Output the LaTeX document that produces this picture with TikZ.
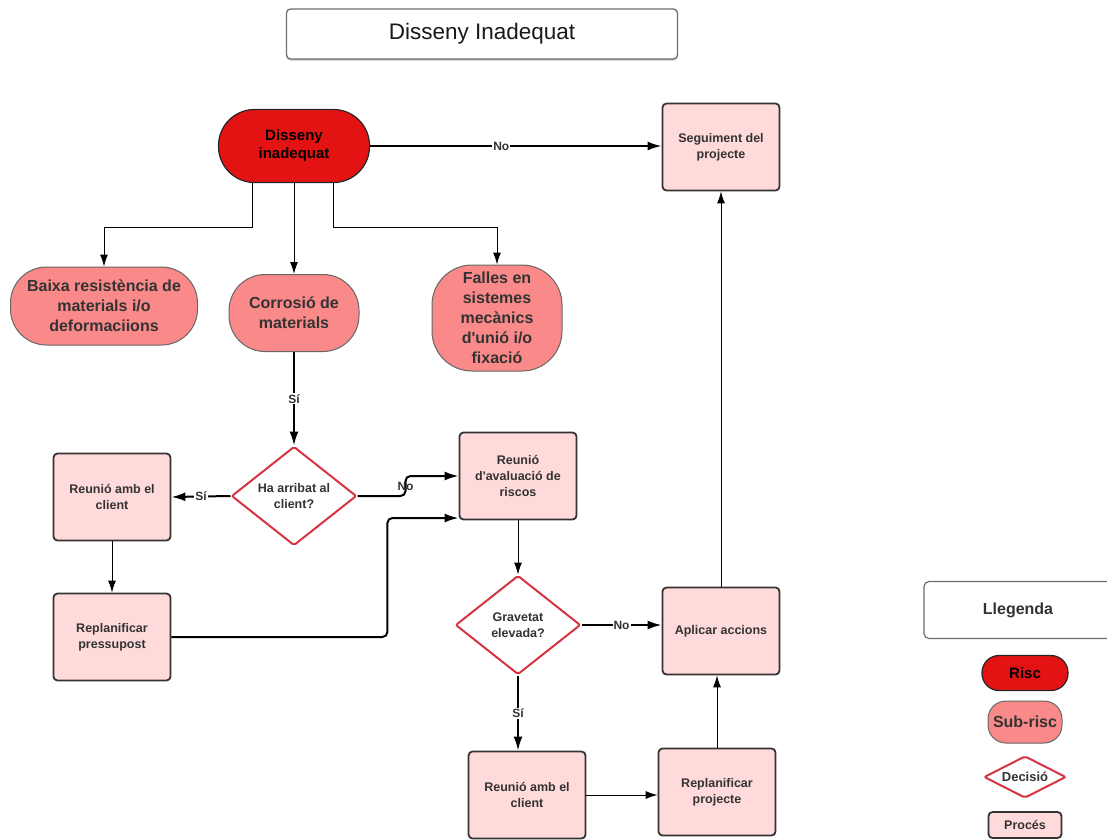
\documentclass[tikz,border=0pt]{standalone}
\usepackage{fontspec}
\setmainfont{Liberation Sans}
\usetikzlibrary{shapes.geometric,arrows.meta,shadows}
\definecolor{riscred}{RGB}{228,19,19}
\definecolor{subred}{RGB}{250,137,137}
\definecolor{procpink}{RGB}{255,218,218}
\definecolor{decred}{RGB}{214,52,64}
\definecolor{textgray}{RGB}{51,51,51}
\definecolor{edgegray}{RGB}{51,51,51}
\definecolor{boxgray}{RGB}{110,110,110}
\tikzset{
  mtitle/.style  = {draw=boxgray, line width=1.3pt, rounded corners=4pt, fill=white,
                    drop shadow={shadow xshift=0pt, shadow yshift=-1.5pt, fill=black!45},
                    minimum width=391pt, minimum height=50pt,
                    font=\fontsize{22.5}{25}\selectfont, text=black!90},
  mrisc/.style   = {draw=black!85, line width=1.2pt, rounded corners=36pt, fill=riscred,
                    align=center, text=black, font=\fontsize{15}{18}\selectfont\bfseries,
                    minimum width=151pt, minimum height=73pt, inner sep=2pt},
  msub/.style    = {mrisc, draw=black!60, line width=1pt, fill=subred, text=textgray,
                    font=\fontsize{16}{20}\selectfont\bfseries,
                    minimum width=130pt, minimum height=77pt},
  mproc/.style   = {draw=edgegray, line width=1.8pt, rounded corners=4pt, fill=procpink,
                    align=center, text=textgray, font=\fontsize{12.5}{16}\selectfont\bfseries,
                    minimum width=117pt, minimum height=87pt, inner sep=2pt},
  % Decisions: fixed outer size, text kept inside the diamond.
  mdec/.style    = {diamond, draw=decred, line width=2pt, rounded corners=2pt, fill=white,
                    align=center, text=textgray, font=\fontsize{12.5}{16}\selectfont\bfseries,
                    minimum width=125pt, minimum height=99pt, inner sep=0pt, aspect=1.26},
  mlegbox/.style = {draw=boxgray, line width=1.2pt, rounded corners=5pt, fill=white,
                    minimum width=188pt, minimum height=57pt, text=textgray,
                    font=\fontsize{16}{18}\selectfont\bfseries},
  link/.style    = {draw=black, line width=1pt, -{Latex[length=12pt,width=8pt]}},
  linkb/.style   = {link, line width=2pt, -{Latex[length=14pt,width=9pt]}},
  elab/.style    = {fill=white, text=textgray, inner sep=1pt,
                    font=\fontsize{12}{14}\selectfont\bfseries},
}

\begin{document}
\begin{tikzpicture}[x=1pt, y=-1pt]

    \path[use as bounding box, fill=white] (0,0) rectangle (1107,839);

    \node[mtitle] (title) at (482,34) {Disseny Inadequat};

    \node[mrisc] (risc) at (294,146) {Disseny\\inadequat};
    \node[mproc] (seg)  at (721,147) {Seguiment del\\projecte};

    \node[msub, minimum width=187pt, minimum height=78pt] (baixa) at (104,306)
         {Baixa resistència de\\materials i/o\\deformaciions};
    \node[msub] (corr) at (294,313) {Corrosió de\\materials};
    \node[msub, minimum height=106pt, rounded corners=40pt] (falles) at (497,318)
         {Falles en\\sistemes\\mecànics\\d\textquotesingle unió i/o\\fixació};

    \node[mdec]  (dec1) at (294,496) {Ha arribat al\\client?};
    \node[mproc] (reu1) at (112,497) {Reunió amb el\\client};
    \node[mproc] (rep1) at (112,637) {Replanificar\\pressupost};
    \node[mproc] (aval) at (518,476) {Reunió\\d\textquotesingle avaluació de\\riscos};

    \node[mdec]  (dec2) at (518,625) {Gravetat\\elevada?};
    \node[mproc] (apl)  at (721,631) {Aplicar accions};
    \node[mproc] (reu2) at (527,795) {Reunió amb el\\client};
    \node[mproc] (rep2) at (717,792) {Replanificar\\projecte};

    % legend
    \node[mlegbox] (lleg) at (1018,610) {Llegenda};
    \node[mrisc, minimum width=86pt, minimum height=35pt, rounded corners=17pt,
          inner sep=0pt] (lrisc) at (1025,673) {Risc};
    \node[msub, minimum width=74pt, minimum height=42pt, rounded corners=18pt,
          inner sep=0pt] (lsub) at (1025,722) {Sub-risc};
    \node[mdec, minimum width=82pt, minimum height=42pt, aspect=1.95,
          font=\fontsize{13}{15}\selectfont\bfseries] (ldec) at (1025,777) {Decisió};
    \node[mproc, minimum width=73pt, minimum height=26pt, inner sep=0pt] (lproc)
         at (1025,825) {Procés};

    \draw[link] ([xshift=-42pt]risc.south) -- ++(0,44) -| (baixa.north);
    \draw[link] (risc.south) -- (corr.north);
    \draw[link] ([xshift=39pt]risc.south) -- ++(0,44) -| (falles.north);
    \draw[linkb] (risc.east) -- node[elab, pos=0.45] {No} (risc.east -| seg.west);

    \draw[linkb] (corr.south) -- node[elab] {Sí} (dec1.north);
    \draw[linkb] (dec1.west) -- node[elab] {Sí} (reu1.east);
    \draw[link] (reu1.south) -- (rep1.north);
    \draw[linkb, rounded corners=5pt] (dec1.east) -- ++(48,0)
         |- node[elab, pos=0.25, fill=none] {No} (aval.west);
    \draw[linkb, rounded corners=5pt] (rep1.east) -- ++(216,0)
         |- ([yshift=-42pt]aval.west);

    \draw[link] (aval.south) -- (dec2.north);
    \draw[linkb] (dec2.east) -- node[elab] {No} (dec2.east -| apl.west);
    \draw[linkb] (dec2.south) -- node[elab] {Sí} (dec2.south |- reu2.north);
    \draw[link] (reu2.east) -- (reu2.east -| rep2.west);
    \draw[link] (rep2.north) -- (rep2.north |- apl.south);
    \draw[link] (apl.north) -- (seg.south);

\end{tikzpicture}
\end{document}
